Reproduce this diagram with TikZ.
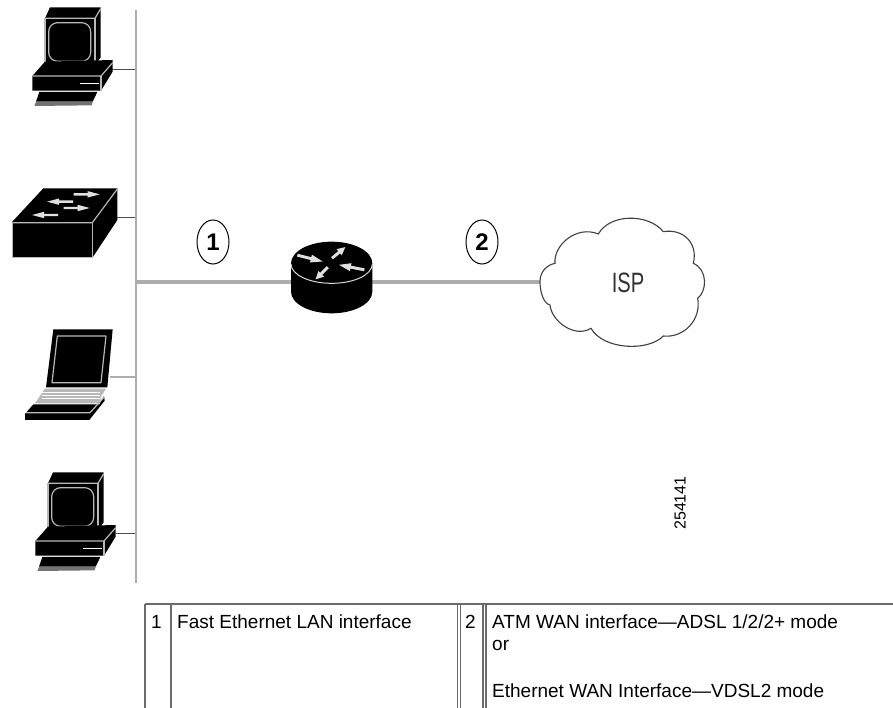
\documentclass[tikz,border=0pt]{standalone}
\usepackage{fontspec}
\setmainfont{Liberation Sans}
\usetikzlibrary{arrows.meta,shapes.geometric}
\definecolor{busgray}{gray}{0.68}
\definecolor{edgegray}{gray}{0.72}
\definecolor{tablegray}{gray}{0.42}
\tikzset{
  bus/.style={draw=busgray,line width=2.6pt},
  drop/.style={draw=black!70,line width=1pt},
  hl/.style={draw=edgegray,line width=1.2pt,line join=round},
  whitearrow/.style={draw=none,fill=white!88!black},
  callout/.style={ellipse,draw=black,line width=1pt,minimum width=32pt,minimum height=44pt,inner sep=0pt,font=\bfseries\fontsize{24}{26}\selectfont},
  tabletext/.style={anchor=base west,inner sep=0pt,font=\fontsize{19}{22}\selectfont},
  tableline/.style={draw=tablegray,line width=1.5pt},
  pics/pcicon/.style={code={
    % monitor
    \fill[black] (150,22)--(302,22)--(302,172)--(285,195)--(135,195)--(135,55)--cycle;
    \draw[hl] (135,55)--(285,55)--(302,26);
    \draw[hl] (285,55)--(285,195);
    \draw[hl] (135,55)--(135,195)--(285,195);
    \draw[hl,rounded corners=9pt] (146,68)rectangle(272,184);
    % base
    \fill[black] (135,185)--(338,180)--(338,215)--(303,272)--(97,272)--(97,228)--cycle;
    \draw[hl] (97,228)--(303,228)--(338,188);
    \draw[hl] (303,228)--(303,272);
    \draw[hl,draw=white,line width=1.4pt] (240,251)--(297,251);
    % keyboard
    \fill[black] (118,276)--(292,276)--(278,305)--(108,305)--cycle;
    \fill[black!55] (108,306)--(278,306)--(275,316)--(103,318)--cycle;
  }},
  pics/arrowhead/.style={code={
    \fill[whitearrow] (-13,-2.2)--(1,-2.2)--(1,-6)--(13,0)--(1,6)--(1,2.2)--(-13,2.2)--cycle;
  }}
}
\begin{document}
\begin{tikzpicture}[x=1pt,y=-1pt]
\useasboundingbox (0,0) rectangle (893,708);
\fill[white] (0,0) rectangle (893,708);

% anchors for the drops and trunk
\coordinate (bustop) at (136,10);
\coordinate (busbot) at (136,583);
\coordinate (tap1) at (136,70);
\coordinate (tap2) at (136,218);
\coordinate (tap3) at (136,377);
\coordinate (tap4) at (136,533);
\coordinate (tap5) at (136,282);
\coordinate (pc1port) at (112,70);
\coordinate (swport) at (117,218);
\coordinate (lapport) at (110,377);
\coordinate (pc2port) at (116,533);

\draw[drop] (pc1port)--(tap1);
\draw[drop] (swport)--(tap2);
\draw[drop,draw=busgray,line width=1.4pt] (lapport)--(tap3);
\draw[drop] (pc2port)--(tap4);
\draw[bus] (bustop)--(busbot);

% PC 1
\begin{scope}[x=1pt/3,y=-1pt/3]
  \pic at (0,0) {pcicon};
\end{scope}
% PC 2
\begin{scope}[x=1pt/3,y=-1pt/3,shift={(9,1395)}]
  \pic at (0,0) {pcicon};
\end{scope}

% switch
\begin{scope}[x=1pt/3,y=-1pt/3]
  \fill[black] (130,565)--(352,565)--(352,660)--(278,772)--(37,772)--(37,665)--cycle;
  \draw[hl] (37,668)--(277,668)--(352,567);
  \draw[hl] (277,668)--(277,772);
  \draw[hl] (37,668)--(37,772)--(277,772);
  \pic at (260,583) [xscale=3,yscale=1.6] {arrowhead};
  \pic at (180,605) [xscale=-3,yscale=1.6] {arrowhead};
  \pic at (230,624) [xscale=3,yscale=1.6] {arrowhead};
  \pic at (135,645) [xscale=-3,yscale=1.6] {arrowhead};
\end{scope}

% laptop
\begin{scope}[x=1pt/3,y=-1pt/3,shift={(0,930)}]
  \fill[black] (160,58)--(338,58)--(322,232)--(138,232)--cycle;
  \draw[hl] (172,78)--(318,78)--(303,218)--(156,218)--cycle;
  \fill[black!28] (135,236)--(318,236)--(304,258)--(298,280)--(105,280)--cycle;
  \foreach \yy in {246,256,266}{\draw[white,line width=0.5pt] (125,\yy)--(300,\yy);}
  \fill[black] (100,283)--(298,283)--(312,258)--(314,272)--(268,330)--(75,330)--(75,312)--cycle;
  \draw[hl] (78,308)--(270,308)--(312,262);
\end{scope}

% router
\coordinate (rl) at (291,282);
\coordinate (rr) at (372,282);
\coordinate (cloudport) at (540,282);
\draw[bus,line width=3.4pt] (tap5)--(rl);
\draw[bus,line width=3.4pt] (rr)--(cloudport);
\begin{scope}[x=1pt/3,y=-1pt/3,shift={(540,600)}]
  \fill[black] (333,190) arc[start angle=180,end angle=360,x radius=122,y radius=65]
     --(577,275) arc[start angle=0,end angle=180,x radius=122,y radius=65]--cycle;
  \draw[hl,draw=white!85!black,line width=1pt] (333,192) arc[start angle=180,end angle=0,x radius=122,y radius=58];
  \pic at (390,175) [rotate=-14,xscale=3,yscale=2] {arrowhead};
  \pic at (476,158) [rotate=40,xscale=2,yscale=2] {arrowhead};
  \pic at (515,202) [rotate=169,xscale=3,yscale=2] {arrowhead};
  \pic at (425,220) [rotate=225,xscale=2,yscale=2] {arrowhead};
\end{scope}

% callouts
\node[callout] (c1) at (213,242) {1};
\node[callout] (c2) at (482,242) {2};

% cloud
\begin{scope}[x=1pt/3,y=-1pt/3,shift={(1560,630)}]
  \draw[black!75,line width=1.1pt,fill=white]
    (60,215)
    .. controls (60,185) and (80,165) .. (105,160)
    .. controls (100,105) and (170,45) .. (235,72)
    .. controls (270,10) and (385,10) .. (430,65)
    .. controls (490,55) and (535,100) .. (520,160)
    .. controls (565,180) and (560,245) .. (533,265)
    .. controls (545,330) and (490,385) .. (430,378)
    .. controls (385,425) and (250,420) .. (213,355)
    .. controls (165,385) and (95,335) .. (90,285)
    .. controls (70,280) and (60,245) .. (60,215)
    -- cycle;
\end{scope}
\node[inner sep=0pt,xscale=0.72,font=\fontsize{28}{30}\selectfont,text=black!80] (isp) at (628,283) {ISP};

% figure number
\node[rotate=90,inner sep=0pt,font=\fontsize{16}{18}\selectfont] (fignum) at (680,503) {254141};

% table
\draw[tableline,line width=2.4pt] (145,604)--(893,604);
\draw[tableline] (145,604)--(145,708);
\draw[tableline] (171,604)--(171,708);
\draw[tableline] (457.5,604)--(457.5,708);
\draw[tableline] (460.5,604)--(460.5,708);
\draw[tableline] (483,604)--(483,708);
\draw[tableline] (486,604)--(486,708);
\node[tabletext] (n1) at (151,628) {1};
\node[tabletext] (t1) at (177,628) {Fast Ethernet LAN interface};
\node[tabletext] (n2) at (465,628) {2};
\node[tabletext] (t2a) at (492,628) {ATM WAN interface—ADSL 1/2/2+ mode};
\node[tabletext] (t2b) at (492,650) {or};
\node[tabletext] (t2c) at (492,697) {Ethernet WAN Interface—VDSL2 mode};
\end{tikzpicture}
\end{document}
